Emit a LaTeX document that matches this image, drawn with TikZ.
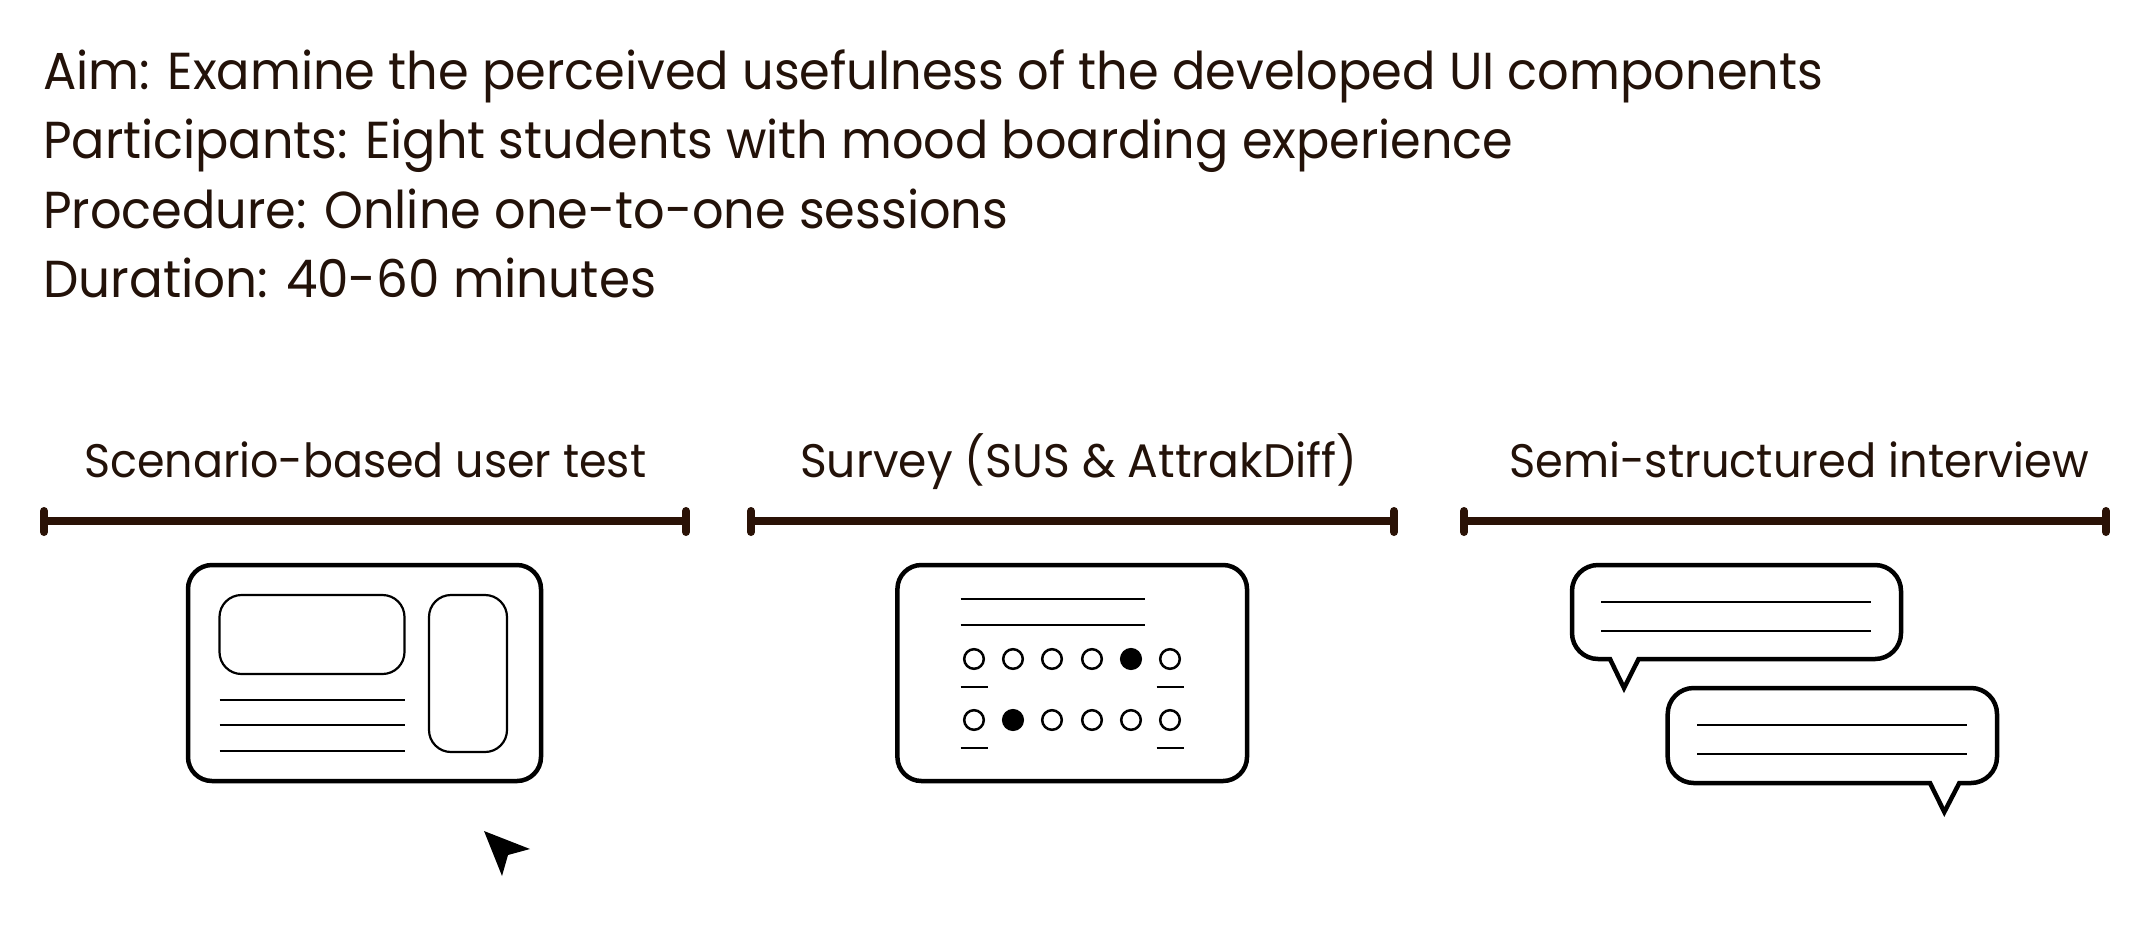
\documentclass[tikz,border=0pt]{standalone}
\usepackage{fontspec}
\setmainfont{Poppins}
\definecolor{ink}{HTML}{231209}
\definecolor{barink}{HTML}{2A1206}
\newcommand{\fitw}[2]{\resizebox{#1pt}{\height}{#2}}
\tikzset{
  headtext/.style={anchor=base west,inner sep=0pt,text=ink,font=\fontsize{52}{60}\selectfont},
  labtext/.style={anchor=base west,inner sep=0pt,text=ink,font=\fontsize{47}{54}\selectfont},
  barline/.style={draw=barink,line width=8pt},
  barend/.style={draw=barink,line width=8pt,line cap=round},
  outerbox/.style={draw=black,line width=4.5pt,rounded corners=24pt},
  innerbox/.style={draw=black,line width=2.2pt,rounded corners=22pt},
  ruleline/.style={draw=black,line width=2.2pt},
  opendot/.style={draw=black,line width=2.5pt,fill=white},
  fulldot/.style={draw=black,line width=2.5pt,fill=black},
  bubbleshape/.style={draw=black,line width=4.5pt,line join=miter}
}
\begin{document}
\begin{tikzpicture}[x=1pt,y=-1pt]
\useasboundingbox[fill=white] (0,0) rectangle (2151,940);
% heading
\node[headtext] (t1) at (43,89) {\fitw{1780}{Aim: Examine the perceived usefulness of the developed UI components}};
\node[headtext] (t2) at (43,158) {\fitw{1470}{Participants: Eight students with mood boarding experience}};
\node[headtext] (t3) at (43,228) {\fitw{965}{Procedure: Online one-to-one sessions}};
\node[headtext] (t4) at (43,297) {\fitw{613}{Duration: 40-60 minutes}};
% labels
\node[labtext] (l1) at (84,477) {\fitw{562}{Scenario-based user test}};
\node[labtext] (l2) at (800,477) {\fitw{557}{Survey (SUS \& AttrakDiff)}};
\node[labtext] (l3) at (1509,477) {\fitw{580}{Semi-structured interview}};
% bars
\foreach \a/\b in {44/686,751/1394,1464/2106}{
  \draw[barline] (\a,521) -- (\b,521);
  \draw[barend] (\a,511) -- (\a,532);
  \draw[barend] (\b,511) -- (\b,532);
}
% icon 1
\draw[outerbox] (188,565) rectangle (541,781);
\draw[innerbox] (219.5,595) rectangle (404.5,674);
\draw[innerbox] (429,595) rectangle (507,752);
\foreach \y in {700,725,751} \draw[ruleline] (219.5,\y) -- (404.5,\y);
\fill[black] (484,831) -- (530,849) -- (508,855) -- (502,876) -- cycle;
% icon 2
\draw[outerbox] (897.4,565) rectangle (1247,781);
\foreach \y in {599,625} \draw[ruleline] (960.6,\y) -- (1145,\y);
\foreach \x in {974,1013,1052,1092,1170} \draw[opendot] (\x,659) circle (9.8);
\draw[fulldot] (1131,659) circle (9.8);
\foreach \x in {974,1052,1092,1131,1170} \draw[opendot] (\x,720) circle (9.8);
\draw[fulldot] (1013,720) circle (9.8);
\foreach \y in {687,748} {
  \draw[ruleline] (960.6,\y) -- (988,\y);
  \draw[ruleline] (1156.6,\y) -- (1184,\y);
}
% icon 3
\draw[bubbleshape] (1610,659) -- (1624,688) -- (1638.6,659)
  [rounded corners=26pt] -- (1901,659) -- (1901,565) -- (1572,565) -- (1572,659) [rounded corners=0pt] -- cycle;
\foreach \y in {602,631} \draw[ruleline] (1601,\y) -- (1871,\y);
\draw[bubbleshape] (1930,783) -- (1944.3,812) -- (1959.3,783)
  [rounded corners=26pt] -- (1997,783) -- (1997,688) -- (1667.7,688) -- (1667.7,783) [rounded corners=0pt] -- cycle;
\foreach \y in {725,754} \draw[ruleline] (1697,\y) -- (1967,\y);
\end{tikzpicture}
\end{document}
